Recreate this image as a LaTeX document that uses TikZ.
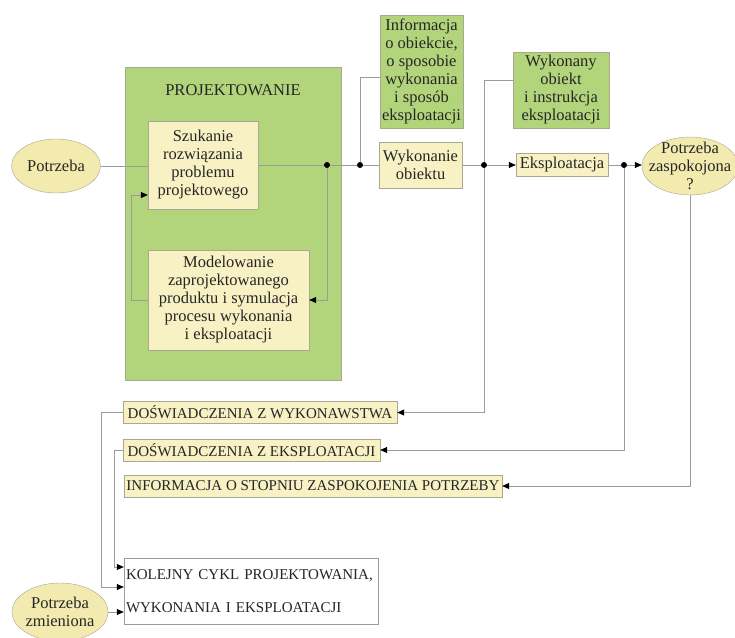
\documentclass[tikz,border=0pt]{standalone}
\usepackage{fontspec}
\setmainfont{Liberation Serif}
\usetikzlibrary{arrows.meta,positioning,shapes.geometric,calc}
\usepackage{xcolor}
\definecolor{LeafGreen}{HTML}{B2D47B}
\definecolor{PaleCream}{HTML}{F7F1C4}
\definecolor{EggYellow}{HTML}{F2EAAE}
\definecolor{WireGray}{HTML}{9C9C9C}
\definecolor{EdgeGray}{HTML}{A9A892}
\definecolor{InkGray}{HTML}{262626}

\begin{document}
\begin{tikzpicture}[
    x=1pt, y=-1pt,
    txt/.style={text=InkGray, font=\fontsize{16.5}{18}\selectfont},
    capstxt/.style={text=InkGray, font=\fontsize{15}{18}\selectfont},
    cream/.style={txt, draw=EdgeGray, fill=PaleCream, align=center, inner sep=0pt},
    leaf/.style={txt, draw=EdgeGray, fill=LeafGreen, align=center, inner sep=0pt},
    capsbox/.style={capstxt, draw=EdgeGray, fill=PaleCream, inner sep=0pt,
                    minimum height=22pt},
    egg/.style={ellipse, draw=EdgeGray, fill=EggYellow, inner sep=0pt,
                label={[txt, align=center]center:#1}},
    dot/.style={circle, fill=black, inner sep=0pt, minimum size=6pt},
    wire/.style={draw=WireGray, line width=0.7pt},
    arr/.style={wire, -{Triangle[length=7pt,width=6pt,color=black]}}
  ]
    \clip (0,0) rectangle (735,637);
    \fill[white] (0,0) rectangle (735,637);

    % design block
    \node[leaf, minimum width=216pt, minimum height=313pt] (proj) at (233,223.5) {};
    \node[txt] (projtitle) at (233,90) {PROJEKTOWANIE};
    \node[cream, minimum width=110pt, minimum height=88pt] (szuk) at (203,165)
      {Szukanie\\rozwiązania\\problemu\\projektowego};
    \node[cream, minimum width=161pt, minimum height=100pt] (model) at (228.5,300)
      {Modelowanie\\zaprojektowanego\\produktu i symulacja\\procesu wykonania\\i eksploatacji};

    % main chain
    \node[egg={Potrzeba}, minimum width=89pt, minimum height=54pt] (need) at (56,166) {};
    \node[leaf, minimum width=83pt, minimum height=113pt] (info) at (421.5,71.5)
      {Informacja\\o obiekcie,\\o sposobie\\wykonania\\i sposób\\eksploatacji};
    \node[cream, minimum width=83pt, minimum height=46pt] (make) at (420.5,165)
      {Wykonanie\\obiektu};
    \node[leaf, minimum width=96pt, minimum height=76pt] (made) at (561,90)
      {Wykonany\\obiekt\\i instrukcja\\eksploatacji};
    \node[cream, minimum width=92pt, minimum height=23pt] (use) at (562,165)
      {Eksploatacja};
    \node[egg={Potrzeba\\zaspokojona\\?}, minimum width=96pt, minimum height=58pt]
      (met) at (690,166) {};

    \node[dot] (d1) at (327,165) {};
    \node[dot] (d2) at (360,165) {};
    \node[dot] (d3) at (484,165) {};
    \node[dot] (d4) at (624,165) {};

    % feedback
    \node[capsbox, minimum width=274pt] (expmake) at (260,412.5) {DOŚWIADCZENIA Z WYKONAWSTWA};
    \node[capsbox, minimum width=257pt] (expuse) at (251.5,450) {DOŚWIADCZENIA Z EKSPLOATACJI};
    \node[capsbox, minimum width=378pt] (degree) at (313,486) {INFORMACJA O STOPNIU ZASPOKOJENIA POTRZEBY};
    \node[capstxt, draw=WireGray, fill=white, minimum width=254pt, minimum height=66pt,
          inner xsep=2pt, align=left, text width=250pt] (next) at (251,591)
      {KOLEJNY CYKL PROJEKTOWANIA,\\[15pt]WYKONANIA I EKSPLOATACJI};
    \node[egg={Potrzeba\\zmieniona}, minimum width=96pt, minimum height=58pt]
      (changed) at (60,612) {};

    % connectors
    \draw[wire] (need.east) -- (need.east -| szuk.west);
    \draw[wire] (szuk.east) -- (d1) -- (d2) -- (make.west);
    \draw[arr] (d1) |- (model.east);
    \draw[arr] (model.west) -- ++(-16,0) |- ($(szuk.west)+(0,30)$);
    \draw[wire] (d2) |- ($(info.west)+(0,5.5)$);
    \draw[wire] (make.east) -- (d3);
    \draw[arr] (d3) -- (use.west);
    \draw[wire] (d3) |- ($(made.west)+(0,-10)$);
    \draw[wire] (use.east) -- (d4);
    \draw[arr] (d4) -- (d4 -| met.west);
    \draw[arr] (d3) |- (expmake.east);
    \draw[arr] (d4) |- (expuse.east);
    \draw[arr] (met.south) |- (degree.east);
    \draw[arr] (expmake.west) -- ++(-21,0) |- ($(next.west)+(0,-4)$);
    \draw[arr] (expuse.west) -- ++(-8,0) |- ($(next.west)+(0,-24)$);
    \draw[arr] (changed.east) -- (changed.east -| next.west);
\end{tikzpicture}
\end{document}
